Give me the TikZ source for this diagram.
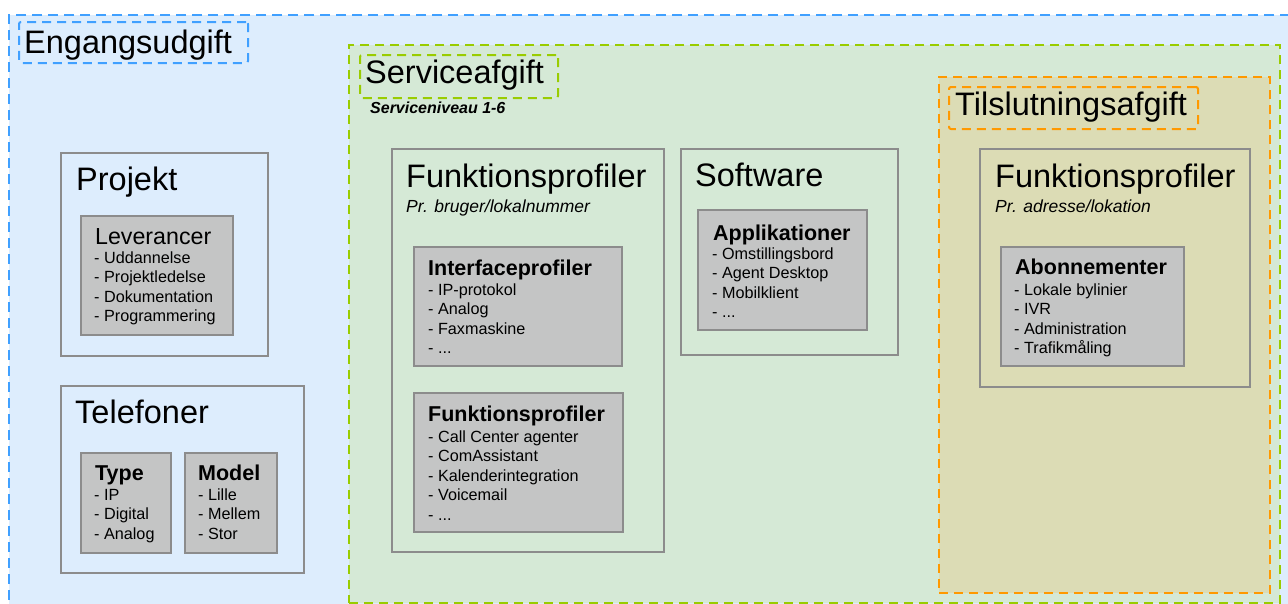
\documentclass[tikz,border=0pt]{standalone}
\usepackage{fontspec}
\setmainfont{Liberation Sans}
\definecolor{bluefill}{RGB}{221,237,253}
\definecolor{bluedash}{RGB}{64,160,255}
\definecolor{greenfill}{RGB}{213,233,214}
\definecolor{greendash}{RGB}{153,204,0}
\definecolor{tanfill}{RGB}{220,220,181}
\definecolor{orangedash}{RGB}{255,153,0}
\definecolor{greyfill}{RGB}{196,197,197}
\definecolor{greyline}{RGB}{140,140,140}
\begin{document}
\begin{tikzpicture}[x=1pt,y=-1pt,
  region/.style={rectangle, anchor=north west, inner sep=0pt, line width=2pt, dash pattern=on 9pt off 6pt},
  labelbox/.style={region, rounded corners=2pt},
  panel/.style={rectangle, anchor=north west, inner sep=0pt, draw=greyline, line width=1.5pt},
  card/.style={panel, fill=greyfill},
  bigtitle/.style={anchor=base west, inner sep=0pt, font=\fontsize{32.5}{38}\selectfont},
  cardtitle/.style={anchor=base west, inner sep=0pt, font=\fontsize{21.5}{26}\selectfont\bfseries},
  plaintitle/.style={anchor=base west, inner sep=0pt, font=\fontsize{23.2}{27}\selectfont},
  items/.style={anchor=base west, inner sep=0pt, font=\fontsize{16.2}{19.5}\selectfont},
  subtitle/.style={anchor=base west, inner sep=0pt, font=\fontsize{17.5}{21}\selectfont\itshape},
  note/.style={anchor=base west, inner sep=0pt, font=\fontsize{16}{19}\selectfont\bfseries\itshape}]
\useasboundingbox (0,0) rectangle (1288,603);
\clip (0,0) rectangle (1288,603);
\fill[white] (0,0) rectangle (1288,603);

% Engangsudgift region
\node[region, draw=bluedash, fill=bluefill, minimum width=1292pt, minimum height=601pt, dash pattern=on 10pt off 6pt] (engreg) at (8,14) {};
\node[labelbox, draw=bluedash, minimum width=229pt, minimum height=41pt] (englab) at (18,21) {};
\node[bigtitle] (engtxt) at (24,53) {Engangsudgift};

% Projekt
\node[panel, fill=bluefill, minimum width=207pt, minimum height=203pt] (projekt) at (60,152) {};
\node[bigtitle] (projekttxt) at (76,190) {Projekt};
\node[card, minimum width=152pt, minimum height=119pt] (lev) at (80,215) {};
\node[plaintitle] (levtxt) at (95,244) {Leverancer};
\node[items] (levitems) at (94,263) {\parbox[t]{150pt}{- Uddannelse\\- Projektledelse\\- Dokumentation\\- Programmering}};

% Telefoner
\node[panel, fill=bluefill, minimum width=243pt, minimum height=187pt] (telefoner) at (60,385) {};
\node[bigtitle] (telefonertxt) at (75,423) {Telefoner};
\node[card, minimum width=90pt, minimum height=100pt] (type) at (80,452) {};
\node[cardtitle] (typetxt) at (95,480) {Type};
\node[items] (typeitems) at (94,500) {\parbox[t]{90pt}{- IP\\- Digital\\- Analog}};
\node[card, minimum width=92pt, minimum height=100pt] (model) at (184,452) {};
\node[cardtitle] (modeltxt) at (198,480) {Model};
\node[items] (modelitems) at (198,500) {\parbox[t]{90pt}{- Lille\\- Mellem\\- Stor}};

% Serviceafgift region
\node[region, draw=greendash, fill=greenfill, minimum width=931pt, minimum height=558pt] (servreg) at (348,44) {};
\node[labelbox, draw=greendash, minimum width=198pt, minimum height=43pt] (servlab) at (359,54) {};
\node[bigtitle] (servtxt) at (365,83) {Serviceafgift};
\node[note] (servnote) at (370,113) {Serviceniveau 1-6};

% Funktionsprofiler (middle)
\node[panel, fill=greenfill, minimum width=272pt, minimum height=403pt] (funkmid) at (391,148) {};
\node[bigtitle] (funkmidtxt) at (406,187) {Funktionsprofiler};
\node[subtitle] (funkmidsub) at (406,212) {Pr. bruger/lokalnummer};
\node[card, minimum width=208pt, minimum height=119pt] (iface) at (413,246) {};
\node[cardtitle] (ifacetxt) at (428,275) {Interfaceprofiler};
\node[items] (ifaceitems) at (428,295) {\parbox[t]{200pt}{- IP-protokol\\- Analog\\- Faxmaskine\\- ...}};
\node[card, minimum width=209pt, minimum height=139pt] (funkcard) at (413,392) {};
\node[cardtitle] (funkcardtxt) at (428,421) {Funktionsprofiler};
\node[items] (funkcarditems) at (428,442) {\parbox[t]{200pt}{- Call Center agenter\\- ComAssistant\\- Kalenderintegration\\- Voicemail\\- ...}};

% Software
\node[panel, fill=greenfill, minimum width=217pt, minimum height=206pt] (software) at (680,148) {};
\node[bigtitle] (softwaretxt) at (695,186) {Software};
\node[card, minimum width=169pt, minimum height=120pt] (app) at (697,209) {};
\node[cardtitle] (apptxt) at (713,240) {Applikationer};
\node[items] (appitems) at (712,259) {\parbox[t]{160pt}{- Omstillingsbord\\- Agent Desktop\\- Mobilklient\\- ...}};

% Tilslutningsafgift region
\node[region, draw=orangedash, fill=tanfill, minimum width=331pt, minimum height=516pt] (tilreg) at (938,76) {};
\node[labelbox, draw=orangedash, minimum width=249pt, minimum height=42pt] (tillab) at (948,86) {};
\node[bigtitle] (tiltxt) at (955,115) {Tilslutningsafgift};

% Funktionsprofiler (right)
\node[panel, fill=tanfill, minimum width=270pt, minimum height=238pt] (funkright) at (979,148) {};
\node[bigtitle] (funkrighttxt) at (995,187) {Funktionsprofiler};
\node[subtitle] (funkrightsub) at (995,212) {Pr. adresse/lokation};
\node[card, minimum width=183pt, minimum height=119pt] (abon) at (1000,246) {};
\node[cardtitle] (abontxt) at (1015,274) {Abonnementer};
\node[items] (abonitems) at (1014,295) {\parbox[t]{180pt}{- Lokale bylinier\\- IVR\\- Administration\\- Trafikmåling}};
\end{tikzpicture}
\end{document}
